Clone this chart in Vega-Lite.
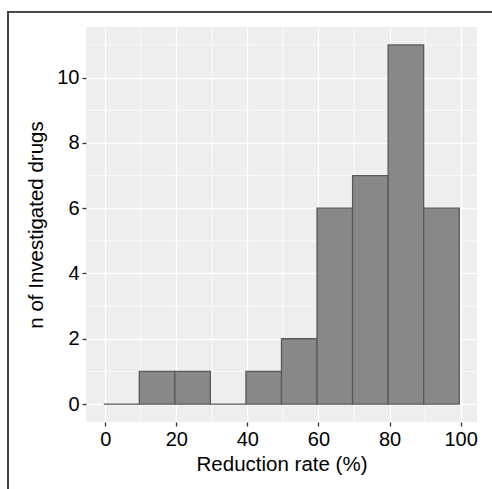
{
  "$schema": "https://vega.github.io/schema/vega-lite/v6.json",
  "width": 391,
  "height": 395,
  "autosize": {"type": "none"},
  "padding": {"left": 86, "top": 27, "right": 15, "bottom": 67},
  "background": "white",
  "config": {
    "font": "Liberation Sans",
    "view": {"fill": "#EDEEED", "stroke": null},
    "axis": {
      "domain": false,
      "grid": true,
      "gridColor": "white",
      "gridWidth": 1.4,
      "tickColor": "#333333",
      "tickSize": 4,
      "tickWidth": 1.3,
      "labelColor": "black",
      "labelFont": "Liberation Sans",
      "titleFont": "Liberation Sans",
      "titleFontWeight": "normal",
      "titleColor": "black",
      "labelPadding": 3
    }
  },
  "datasets": {
    "bins": [
      {"bin_start": -0.4, "bin_end": 9.6, "count": 0},
      {"bin_start": 9.6, "bin_end": 19.6, "count": 1},
      {"bin_start": 19.6, "bin_end": 29.6, "count": 1},
      {"bin_start": 29.6, "bin_end": 39.6, "count": 0},
      {"bin_start": 39.6, "bin_end": 49.6, "count": 1},
      {"bin_start": 49.6, "bin_end": 59.6, "count": 2},
      {"bin_start": 59.6, "bin_end": 69.6, "count": 6},
      {"bin_start": 69.6, "bin_end": 79.6, "count": 7},
      {"bin_start": 79.6, "bin_end": 89.6, "count": 11},
      {"bin_start": 89.6, "bin_end": 99.6, "count": 6}
    ],
    "minor_x": [{"v": 10}, {"v": 30}, {"v": 50}, {"v": 70}, {"v": 90}],
    "minor_y": [{"v": 1}, {"v": 3}, {"v": 5}, {"v": 7}, {"v": 9}, {"v": 11}]
  },
  "layer": [
    {
      "data": {"name": "minor_x"},
      "mark": {"type": "rule", "color": "white", "strokeWidth": 0.7},
      "encoding": {
        "x": {"field": "v", "type": "quantitative"}
      }
    },
    {
      "data": {"name": "minor_y"},
      "mark": {"type": "rule", "color": "white", "strokeWidth": 0.7},
      "encoding": {
        "y": {"field": "v", "type": "quantitative"}
      }
    },
    {
      "data": {"name": "bins"},
      "mark": {"type": "rect", "fill": null, "fillOpacity": 0, "stroke": "#444444", "strokeWidth": 1.3, "clip": false},
      "encoding": {
        "x": {"datum": -27.35, "type": "quantitative"},
        "x2": {"datum": 400},
        "y": {"datum": 12.02, "type": "quantitative"},
        "y2": {"datum": -30}
      }
    },
    {
      "data": {"name": "bins"},
      "mark": {"type": "rect", "fill": "#888888", "stroke": "#595959", "strokeWidth": 1.3},
      "encoding": {
        "x": {
          "field": "bin_start",
          "type": "quantitative",
          "scale": {"domain": [-5.4, 104.6], "nice": false, "zero": false},
          "axis": {
            "title": "Reduction rate (%)",
            "values": [0, 20, 40, 60, 80, 100],
            "labelFontSize": 20,
            "titleFontSize": 20.5,
            "titlePadding": 5
          }
        },
        "x2": {"field": "bin_end"},
        "y": {
          "field": "count",
          "type": "quantitative",
          "scale": {"domain": [-0.55, 11.55], "nice": false, "zero": false},
          "axis": {
            "title": "n of Investigated drugs",
            "values": [0, 2, 4, 6, 8, 10],
            "labelFontSize": 20,
            "titleFontSize": 20.5,
            "titlePadding": 10
          }
        },
        "y2": {"datum": 0}
      }
    }
  ]
}
